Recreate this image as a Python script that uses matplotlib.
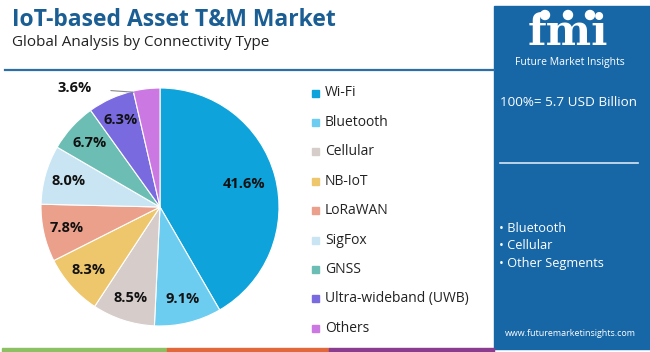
import numpy as np
import matplotlib.pyplot as plt
from matplotlib.patches import Rectangle

# chart data
segments = ['Wi-Fi', 'Bluetooth', 'Cellular', 'NB-IoT', 'LoRaWAN',
            'SigFox', 'GNSS', 'Ultra-wideband (UWB)', 'Others']
shares = [41.6, 9.1, 8.5, 8.3, 7.8, 8.0, 6.7, 6.3, 3.6]
colors = ['#0ea3db', '#6ccdf1', '#d6ccc9', '#eec66b', '#eba08b',
          '#c9e5f3', '#6cbdb3', '#7a6ae0', '#cc78e2']
title = 'IoT-based Asset T&M Market'
subtitle = 'Global Analysis by Connectivity Type'
total_text = '100%= 5.7 USD Billion'
bullets = ['Bluetooth', 'Cellular', 'Other Segments']
site = 'www.futuremarketinsights.com'

W, H = 650, 352
plt.rcParams['font.family'] = ['Open Sans', 'DejaVu Sans']
fig = plt.figure(figsize=(W / 100, H / 100), dpi=100)
fig.patch.set_facecolor('white')

def fx(px):
    return px / W

def fy(py):
    return 1 - py / H

panel_blue = '#1767a7'

# background decorations (figure coords)
bg = fig.add_axes([0, 0, 1, 1])
bg.set_xlim(0, W)
bg.set_ylim(H, 0)
bg.axis('off')
bg.add_patch(Rectangle((494, 6), 156, 343, color=panel_blue))
bg.plot([5, 494], [70, 70], color='#2b6fa6', lw=1.6)
bg.add_patch(Rectangle((2, 348), 165, 4, color='#8dc063'))
bg.add_patch(Rectangle((167, 348), 162, 4, color='#e0683a'))
bg.add_patch(Rectangle((329, 348), 165, 4, color='#8a3d8e'))
bg.plot([500, 638], [163, 163], color='#d8e6f2', lw=1.2)

# titles
fig.text(fx(12), fy(20), title, fontsize=16.5, fontweight='bold',
         color='#1a5e94', va='center', ha='left')
fig.text(fx(12), fy(42), subtitle, fontsize=11, color='#222222',
         va='center', ha='left')

# logo (rough)
fig.text(fx(568), fy(33), 'fmi', fontsize=31, fontweight='bold',
         family='DejaVu Serif', color='white', ha='center', va='center')
for yy in range(21, 50, 4):
    bg.plot([518, 622], [yy, yy], color=panel_blue, lw=0.7)
for cx in [545, 568, 590]:
    bg.add_patch(plt.Circle((cx, 15), 4.5, color='white'))
fig.text(fx(570), fy(62), 'Future Market Insights', fontsize=7.5,
         color='white', ha='center', va='center')

# panel text
fig.text(fx(569), fy(103), total_text, fontsize=9.7, color='white',
         ha='center', va='center')
for i, b in enumerate(bullets):
    fig.text(fx(499), fy(228 + i * 17.5), '\u2022 ' + b, fontsize=9.2,
             color='white', ha='left', va='center')
fig.text(fx(570), fy(334), site, fontsize=6.4, color='white',
         ha='center', va='center')

# pie
cx, cy, r = 160, 207, 119
ax = fig.add_axes([fx(cx - r), fy(cy + r), 2 * r / W, 2 * r / H])
wedges, _ = ax.pie(shares, colors=colors, startangle=90, counterclock=False,
                   radius=1, wedgeprops=dict(linewidth=0.8, edgecolor='white'))
ax.set_xlim(-1, 1)
ax.set_ylim(-1, 1)
ax.set_aspect('equal')
ax.axis('off')

for i, (w, v) in enumerate(zip(wedges, shares)):
    mid = np.deg2rad((w.theta1 + w.theta2) / 2)
    lab = f'{v:.1f}%'
    if v < 5:
        ax.annotate(lab, xy=(np.cos(w.theta2 * np.pi / 180) * 0.99,
                             np.sin(w.theta2 * np.pi / 180) * 0.99),
                    xytext=(-0.72, 1.0), fontsize=10.5, fontweight='bold',
                    ha='center', va='center', color='#111111',
                    arrowprops=dict(arrowstyle='-', color='#888888', lw=0.8,
                                    shrinkA=12, shrinkB=0),
                    annotation_clip=False)
        continue
    rr = 0.73 if v > 30 else 0.8
    ax.text(np.cos(mid) * rr, np.sin(mid) * rr, lab, fontsize=10.5,
            fontweight='bold', ha='center', va='center', color='#111111')

# legend
for i, (s, c) in enumerate(zip(segments, colors)):
    y = 93 + i * 29.4
    bg.add_patch(Rectangle((312, y - 3.5), 7, 7, color=c))
    fig.text(fx(325), fy(y), s, fontsize=10, color='#222222',
             ha='left', va='center')

fig.savefig('out.png', dpi=100)
